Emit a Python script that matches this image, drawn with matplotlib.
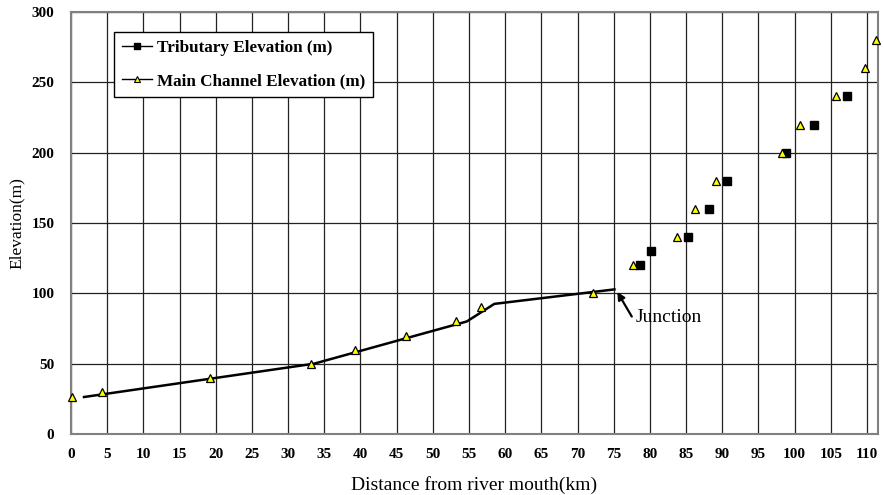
import matplotlib
matplotlib.use("Agg")
import matplotlib.pyplot as plt
from matplotlib.lines import Line2D

plt.rcParams['font.family'] = ['Liberation Serif', 'DejaVu Serif']

# tributary profile (line below the junction, squares above it)
trib_line_x = [1.8, 33.6, 54.7, 58.5, 75.1]
trib_line_y = [26.3, 50, 80, 92.5, 102.8]
trib_pts_x = [78.7, 80.2, 85.2, 88.2, 90.7, 98.8, 102.7, 107.2]
trib_pts_y = [120, 130, 140, 160, 180, 200, 220, 240]

# main channel points
main_x = [0.2, 4.3, 19.2, 33.2, 39.2, 46.3, 53.2, 56.7, 72.2,
          77.7, 83.7, 86.2, 89.2, 98.2, 100.7, 105.7, 109.7, 111.2]
main_y = [26, 30, 40, 50, 60, 70, 80, 90, 100,
          120, 140, 160, 180, 200, 220, 240, 260, 280]

x_ticks = list(range(0, 111, 5))
y_ticks = list(range(0, 301, 50))

fig = plt.figure(figsize=(8.84, 4.95), dpi=100)
ax = fig.add_axes([0.0803, 0.1232, 0.9127, 0.8526])

ax.plot(trib_line_x, trib_line_y, color='black', lw=1.8, zorder=3)
ax.plot(trib_pts_x, trib_pts_y, ls='none', marker='s', ms=5.5,
        color='black', zorder=4)
ax.plot(main_x, main_y, ls='none', marker='^', ms=5.5, mfc='#ffff00',
        mec='black', mew=0.9, zorder=5, clip_on=False)

ax.set_xlim(0, 111.5)
ax.set_ylim(0, 300)
ax.set_xticks(x_ticks)
ax.set_yticks(y_ticks)
ax.grid(True, color='#222222', lw=0.9)
ax.set_axisbelow(True)
for s in ax.spines.values():
    s.set_color('#808080')
    s.set_linewidth(1.5)
ax.tick_params(length=0, labelsize=11)
ax.tick_params(axis='x', pad=10)
ax.tick_params(axis='y', pad=12)
for lab in ax.get_xticklabels() + ax.get_yticklabels():
    lab.set_fontweight('bold')

ax.set_xlabel('Distance from river mouth(km)', fontsize=14, labelpad=11)
ax.set_ylabel('Elevation(m)', fontsize=12.5, labelpad=5)

# junction label and arrow
ax.text(78.0, 82.5, 'Junction', fontsize=14, va='center', ha='left')
ax.annotate('', xy=(75.5, 101), xytext=(77.5, 83.5),
            arrowprops=dict(arrowstyle='-|>', color='black', lw=1.6,
                            mutation_scale=11, shrinkA=0, shrinkB=0))

handles = [
    Line2D([], [], color='black', lw=1, marker='s', ms=5),
    Line2D([], [], color='black', lw=1, marker='^', ms=5, mfc='#ffff00',
           mec='black', mew=0.8),
]
leg = ax.legend(handles, ['Tributary Elevation (m)', 'Main Channel Elevation (m)'],
                loc='upper left', bbox_to_anchor=(0.0537, 0.953),
                borderaxespad=0, fancybox=False, framealpha=1,
                edgecolor='black', prop={'weight': 'bold', 'size': 12.3},
                handlelength=1.75, handletextpad=0.3, labelspacing=1.05,
                borderpad=0.45)
leg.get_frame().set_linewidth(1)

fig.savefig('out.png', dpi=100)
